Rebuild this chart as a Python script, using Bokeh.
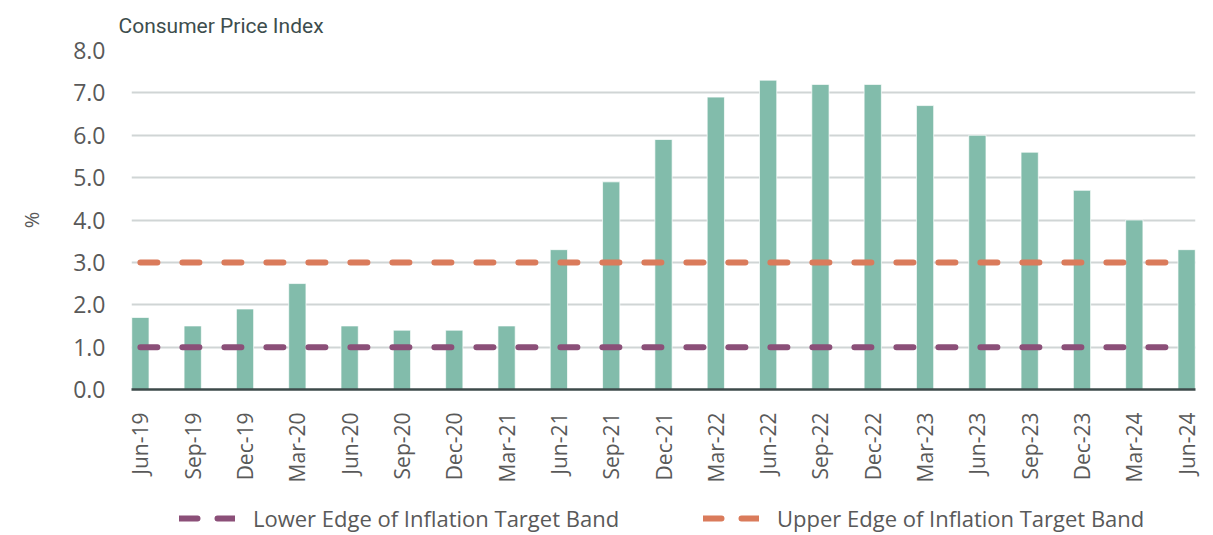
import math
from bokeh.plotting import figure
from bokeh.layouts import column
from bokeh.models import Range1d, FixedTicker, Legend, LegendItem, ColumnDataSource, NumeralTickFormatter
from bokeh.embed import file_html
from bokeh.resources import INLINE

quarters = ["Jun-19", "Sep-19", "Dec-19", "Mar-20", "Jun-20", "Sep-20", "Dec-20", "Mar-21",
            "Jun-21", "Sep-21", "Dec-21", "Mar-22", "Jun-22", "Sep-22", "Dec-22", "Mar-23",
            "Jun-23", "Sep-23", "Dec-23", "Mar-24", "Jun-24"]
cpi = [1.7, 1.5, 1.9, 2.5, 1.5, 1.4, 1.4, 1.5, 3.3, 4.9, 5.9, 6.9, 7.3, 7.2, 7.2, 6.7,
       6.0, 5.6, 4.7, 4.0, 3.3]
lower_band = [1.0, 1.0, 1.0, 1.0, 1.0, 1.0, 1.0, 1.0, 1.0, 1.0, 1.0, 1.0, 1.0, 1.0, 1.0, 1.0,
              1.0, 1.0, 1.0, 1.0, 1.0]
upper_band = [3.0, 3.0, 3.0, 3.0, 3.0, 3.0, 3.0, 3.0, 3.0, 3.0, 3.0, 3.0, 3.0, 3.0, 3.0, 3.0,
              3.0, 3.0, 3.0, 3.0, 3.0]
y_ticks = [0, 1, 2, 3, 4, 5, 6, 7, 8]
legend_labels = ["Lower Edge of Inflation Target Band", "Upper Edge of Inflation Target Band"]

xs = list(range(len(quarters)))
src = ColumnDataSource(dict(x=xs, cpi=cpi, lo=lower_band, hi=upper_band))

TICK_FONT = "Open Sans"
LEG_FONT = "Open Sans"
GREY = "#595959"
LO_COLOR = "#8b4f78"
HI_COLOR = "#da7b5b"

p = figure(frame_width=1064, frame_height=339, output_backend="svg", toolbar_location=None,
           x_range=Range1d(-0.17, len(quarters) - 1 + 0.17), y_range=Range1d(0, 8),
           min_border_left=131, min_border_right=18, min_border_top=50, min_border_bottom=100,
           title="Consumer Price Index")
p.outline_line_color = None
p.background_fill_color = "white"

p.title.text_font = "Roboto"
p.title.text_font_size = "21px"
p.title.text_font_style = "normal"
p.title.text_color = "#3d4d4d"
p.title.offset = -13
p.title.standoff = 22
p.title.vertical_align = "top"

p.vbar(x="x", top="cpi", width=0.33, source=src, fill_color="#82bcab",
       line_color="#ffffff", line_alpha=0.7, line_width=1)

p.line(x="x", y="lo", source=src, line_color=LO_COLOR, line_width=6,
       line_dash="17 25", line_cap="round")
p.line(x="x", y="hi", source=src, line_color=HI_COLOR, line_width=6,
       line_dash="17 25", line_cap="round")

p.xgrid.grid_line_color = None
p.ygrid.grid_line_color = "#d0d5d5"
p.ygrid.grid_line_width = 2
p.ygrid.ticker = FixedTicker(ticks=y_ticks)

p.yaxis.ticker = FixedTicker(ticks=y_ticks)
p.yaxis.formatter = NumeralTickFormatter(format="0.0")
p.yaxis.axis_line_color = None
p.yaxis.major_tick_line_color = None
p.yaxis.minor_tick_line_color = None
p.yaxis.major_label_text_font = TICK_FONT
p.yaxis.major_label_text_font_size = "23px"
p.yaxis.major_label_text_color = GREY
p.yaxis.major_label_standoff = 20
p.yaxis.axis_label = "%"
p.yaxis.axis_label_text_font = TICK_FONT
p.yaxis.axis_label_text_font_size = "20px"
p.yaxis.axis_label_text_font_style = "normal"
p.yaxis.axis_label_text_color = GREY
p.yaxis.axis_label_standoff = 25

p.xaxis.ticker = FixedTicker(ticks=xs)
p.xaxis.major_label_overrides = {i: q for i, q in zip(xs, quarters)}
p.xaxis.major_label_orientation = math.pi / 2
p.xaxis.major_label_text_font = TICK_FONT
p.xaxis.major_label_text_font_size = "21px"
p.xaxis.major_label_text_color = GREY
p.xaxis.major_label_standoff = 17
p.xaxis.major_tick_line_color = None
p.xaxis.minor_tick_line_color = None
p.xaxis.axis_line_color = "#3d4a4a"
p.xaxis.axis_line_width = 2.5

# legend strip below the chart (band series drawn out of its visible y window)
pl = figure(width=1213, height=46, output_backend="svg", toolbar_location=None,
            x_range=Range1d(-0.17, len(quarters) - 1 + 0.17), y_range=Range1d(10, 11),
            x_axis_location=None, y_axis_location=None,
            min_border_left=0, min_border_right=0, min_border_top=0, min_border_bottom=0)
pl.outline_line_color = None
pl.grid.grid_line_color = None
l_lo = pl.line(x="x", y="lo", source=src, line_color=LO_COLOR, line_width=6,
               line_dash="18 20", line_cap="round")
l_hi = pl.line(x="x", y="hi", source=src, line_color=HI_COLOR, line_width=6,
               line_dash="18 20", line_cap="round")
legend = Legend(items=[LegendItem(label=legend_labels[0], renderers=[l_lo]),
                       LegendItem(label=legend_labels[1], renderers=[l_hi])],
                orientation="horizontal", location=(48, 2), spacing=63, label_standoff=18,
                glyph_width=56, glyph_height=20, padding=0, margin=0, label_width=387,
                border_line_color=None, background_fill_alpha=0,
                label_text_font=LEG_FONT, label_text_font_size="22px", label_text_color=GREY)
pl.add_layout(legend, "center")

open("out.html", "w").write(file_html(column(p, pl, spacing=0), INLINE))
